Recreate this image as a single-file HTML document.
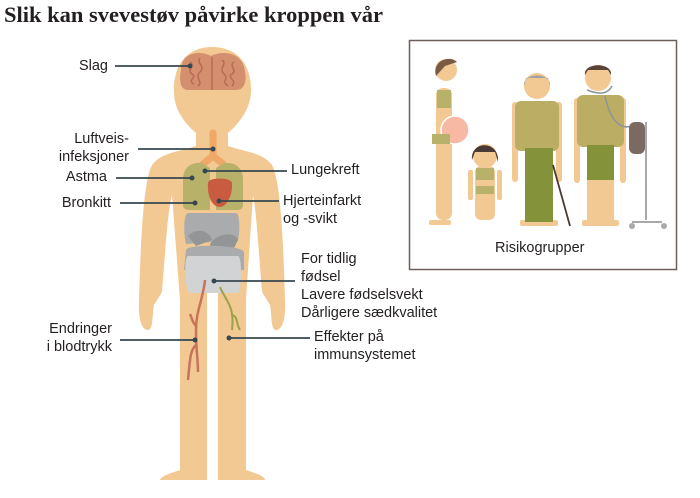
<!DOCTYPE html>
<html><head><meta charset="utf-8"><style>
body{margin:0;width:700px;height:498px;background:#fff;overflow:hidden;position:relative;font-family:"Liberation Sans","DejaVu Sans",sans-serif;color:#231f20}
.t{position:absolute;font-size:14.5px;line-height:18px;white-space:nowrap}
.r{text-align:right}
h1{position:absolute;left:4px;top:2px;margin:0;font-family:"Liberation Serif",serif;font-weight:bold;font-size:22.5px;color:#231f20}
</style></head><body>
<h1>Slik kan svevestøv påvirke kroppen vår</h1>
<svg width="700" height="498" style="position:absolute;left:0;top:0">
<g fill="#f2c992">
<path d="M212,47 C240,47 252,68 251,92 C250,112 236,126 228,133 L228,150 L196,150 L196,133 C188,126 174,112 174,92 C173,68 185,47 212,47Z"/>
<path d="M196,146 L228,146 C245,152 262,152 272,165 C280,180 283,230 285,300 C286,320 282,330 276,330 C271,330 272,318 270,305 L262,292 C258,240 256,210 253,195 L246,300 L246,470 C255,473 265,476 265,480 L218,480 L218,300 L207,300 L207,480 L160,480 C161,476 171,473 180,470 L180,300 L172,195 C168,210 166,240 162,292 L154,305 C152,318 153,330 148,330 C142,330 138,320 139,300 C141,230 144,180 152,165 C162,152 179,152 196,146Z"/>
</g>
<rect x="207" y="290" width="11" height="195" fill="#fff"/>
<path d="M181,70 C181,52 200,50 211,56 C222,50 244,52 245,72 C247,82 244,90 236,90 L188,90 C180,90 179,80 181,70Z" fill="#d48f6f"/>
<path d="M212,57 L212,90 M190,62 c6,4 -4,8 2,12 s-6,6 2,10 M200,58 c-4,6 6,8 0,14 s4,10 -2,14 M222,60 c6,4 -4,8 2,14 s-4,6 4,12 M234,62 c-6,4 4,8 -2,12 s6,6 0,12" stroke="#b86b55" stroke-width="1.5" fill="none"/>
<path d="M213,133 L213,156 L203,164 M213,156 L223,164" stroke="#f0a868" stroke-width="7" fill="none" stroke-linecap="round"/>
<path d="M202,163 C190,162 184,168 183,178 L183,205 C183,209 186,210 190,210 L210,210 L210,168Z" fill="#b8b16a"/>
<path d="M224,163 C236,162 242,168 243,178 L243,205 C243,209 240,210 236,210 L216,210 L216,168Z" fill="#b8b16a"/>
<path d="M208,183 C208,177 231,177 232,183 C233,196 226,207 220,207 C212,207 207,196 208,183Z" fill="#c95b41"/>
<path d="M188,213 L236,213 C240,213 240,232 238,240 L186,244 C183,232 184,213 188,213Z" fill="#a9abad"/>
<path d="M188,236 C198,226 210,232 212,240 L196,246Z M210,244 C218,232 236,232 238,240 L230,256 L212,256Z" fill="#939597"/>
<path d="M186,250 C186,244 240,244 244,252 L244,270 L184,270Z" fill="#a9abad"/>
<path d="M188,256 L238,256 C242,256 242,290 238,293 L190,293 C184,290 184,256 188,256Z" fill="#d1d3d4"/>
<path d="M205,280 C203,300 196,310 196,330 C196,350 198,360 198,372 M196,326 C192,322 192,318 190,314 M196,345 C190,350 190,360 188,380" stroke="#c9735c" stroke-width="2.5" fill="none"/>
<path d="M220,287 C225,300 235,305 232,330 M232,315 C238,316 236,324 240,330" stroke="#9ba24b" stroke-width="2" fill="none"/>
<g stroke="#37474f" stroke-width="1.8">
<line x1="115" y1="66" x2="190" y2="66"/><line x1="138" y1="149" x2="213" y2="149"/>
<line x1="116" y1="178" x2="192" y2="178"/><line x1="205" y1="171" x2="287" y2="171"/>
<line x1="120" y1="203" x2="195" y2="203"/><line x1="219" y1="201" x2="279" y2="201"/>
<line x1="214" y1="281" x2="295" y2="281"/><line x1="120" y1="340" x2="195" y2="340"/>
<line x1="228" y1="338" x2="310" y2="338"/>
</g>
<g fill="#37474f">
<circle cx="190" cy="66" r="2.5"/><circle cx="213" cy="149" r="2.5"/><circle cx="192" cy="178" r="2.5"/>
<circle cx="205" cy="171" r="2.5"/><circle cx="195" cy="203" r="2.5"/><circle cx="219" cy="201" r="2.5"/>
<circle cx="214" cy="281" r="2.5"/><circle cx="195" cy="340" r="2.5"/><circle cx="229" cy="338" r="2.5"/>
</g>
<rect x="409.5" y="40.5" width="267" height="229" fill="none" stroke="#6d5f5a" stroke-width="1.5"/>
<g fill="#f2c992">
<rect x="436" y="88" width="16" height="132" rx="7"/><circle cx="446" cy="70" r="11"/>
<rect x="429" y="220" width="22" height="5" rx="2"/>
<circle cx="485" cy="156" r="12"/><rect x="475" y="166" width="20" height="54" rx="6"/>
<rect x="468" y="170" width="5" height="30" rx="2"/><rect x="497" y="170" width="5" height="30" rx="2"/>
<circle cx="537" cy="86" r="13"/><rect x="512" y="102" width="6" height="80" rx="3"/><rect x="556" y="102" width="6" height="80" rx="3"/>
<rect x="520" y="220" width="38" height="6" rx="2"/>
<circle cx="598" cy="78" r="13"/><rect x="574" y="98" width="6" height="85" rx="3"/><rect x="620" y="98" width="6" height="85" rx="3"/>
<rect x="587" y="175" width="27" height="48" rx="3"/><rect x="582" y="220" width="37" height="6" rx="2"/>
</g>
<circle cx="455" cy="130" r="14" fill="#f7b8a4" stroke="#fff" stroke-width="1.5"/>
<path d="M436,76 C432,60 450,55 457,62 L445,66Z" fill="#7b5a44"/>
<path d="M437,90 h14 v18 h-14Z M432,134 h18 v10 h-18Z" fill="#b8b16a"/>
<path d="M472,160 C470,140 500,140 498,162 L495,152 L475,152Z" fill="#4a3a33"/>
<path d="M476,168 h18 v12 h-18Z M476,186 h18 v8 h-18Z" fill="#b8b16a"/>
<path d="M524,86 C522,72 552,72 550,86 L548,78 L526,78Z" fill="#9fa2a4"/>
<rect x="515" y="101" width="44" height="50" rx="6" fill="#bcad65"/>
<rect x="525" y="148" width="28" height="74" fill="#849339"/>
<line x1="553" y1="165" x2="570" y2="226" stroke="#4a3a33" stroke-width="1.8"/>
<path d="M585,75 C583,62 613,62 611,75 L608,70 L588,70Z" fill="#5a4438"/>
<rect x="577" y="95" width="47" height="52" rx="6" fill="#bcad65"/>
<rect x="587" y="145" width="27" height="35" fill="#849339"/>
<path d="M587,90 C600,95 608,94 612,86 M605,96 C610,120 620,130 632,126" stroke="#8a9599" stroke-width="1.5" fill="none"/>
<rect x="629" y="122" width="16" height="32" rx="6" fill="#7a6a62"/>
<path d="M646,122 L646,220 M632,222 L662,222" stroke="#a7a9ac" stroke-width="2" fill="none"/>
<circle cx="632" cy="226" r="3" fill="#a7a9ac"/><circle cx="664" cy="226" r="3" fill="#a7a9ac"/>
</svg>
<div class="t r" style="right:592px;top:57px">Slag</div>
<div class="t r" style="right:571px;top:130px">Luftveis-<br>infeksjoner</div>
<div class="t r" style="right:593px;top:168px">Astma</div>
<div class="t r" style="right:589px;top:194px">Bronkitt</div>
<div class="t r" style="right:588px;top:320px">Endringer<br>i blodtrykk</div>
<div class="t" style="left:291px;top:161px">Lungekreft</div>
<div class="t" style="left:283px;top:192px">Hjerteinfarkt<br>og -svikt</div>
<div class="t" style="left:301px;top:250px">For tidlig<br>fødsel<br>Lavere fødselsvekt<br>Dårligere sædkvalitet</div>
<div class="t" style="left:314px;top:328px">Effekter på<br>immunsystemet</div>
<div class="t" style="left:495px;top:239px">Risikogrupper</div>
</body></html>
